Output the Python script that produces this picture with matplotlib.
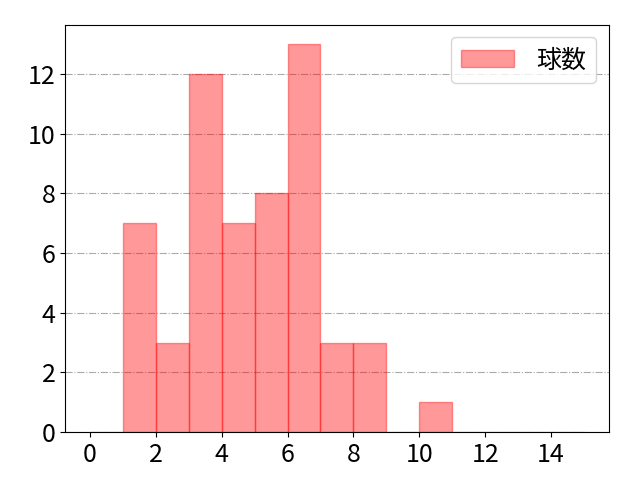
import numpy as np
import matplotlib
matplotlib.use("Agg")
import matplotlib.pyplot as plt

plt.rcParams['font.family'] = ['Noto Sans CJK JP', 'DejaVu Sans']
plt.rcParams['font.size'] = 18

# bin edges and counts
bin_edges = np.arange(0, 16)
counts = [0, 7, 3, 12, 7, 8, 13, 3, 3, 0, 1, 0, 0, 0, 0]

fig, ax = plt.subplots(figsize=(6.4, 4.8), dpi=100)

ax.hist(bin_edges[:-1], bins=bin_edges, weights=counts,
        color='red', alpha=0.4, edgecolor='red', linewidth=1, label='球数')

ax.grid(axis='y', linestyle='-.', color='#aaaaaa', linewidth=0.8)
ax.set_axisbelow(True)
ax.set_xticks(np.arange(0, 15, 2))
ax.legend(loc='upper right', handlelength=2.1, handletextpad=0.9)

plt.subplots_adjust(left=0.102, right=0.951, top=0.948, bottom=0.1)
plt.savefig('out.png', dpi=100)
